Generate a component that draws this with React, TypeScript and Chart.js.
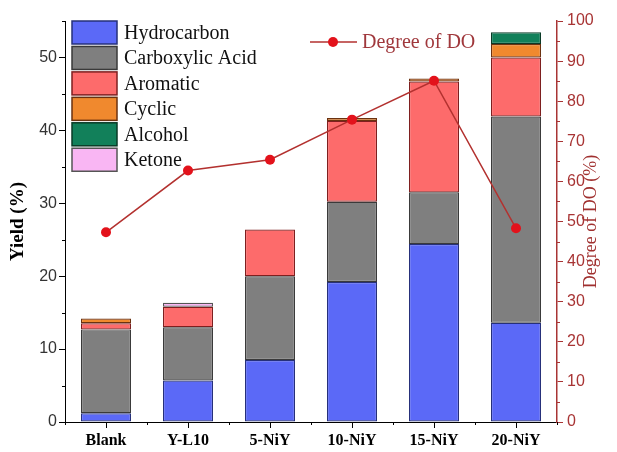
import React, { useEffect, useRef } from "react";
import { Chart, registerables } from "chart.js";

Chart.register(...registerables);

const categories = ["Blank", "Y-L10", "5-NiY", "10-NiY", "15-NiY", "20-NiY"];
const hydrocarbon = [1.2, 5.7, 8.5, 19.2, 24.4, 13.6];
const carboxylicAcid = [11.5, 7.3, 11.5, 11.0, 7.1, 28.3];
const aromatic = [0.85, 2.8, 6.4, 11.1, 15.2, 8.1];
const cyclic = [0.65, null, null, 0.4, 0.4, 1.85];
const alcohol = [null, null, null, null, null, 1.6];
const ketone = [null, 0.55, null, null, null, null];
const degreeDO = [47.3, 62.7, 65.4, 75.4, 85.1, 48.3];

const yieldTicks = [0, 10, 20, 30, 40, 50];
const yieldMinorTicks = [5, 15, 25, 35, 45, 55];
const doTicks = [0, 10, 20, 30, 40, 50, 60, 70, 80, 90, 100];
const doMinorTicks = [5, 15, 25, 35, 45, 55, 65, 75, 85, 95];

const SERIF = "'Liberation Serif', 'Times New Roman', serif";
const SANS = "'Liberation Sans', Arial, sans-serif";
const RED_AXIS = "#a83434";

const barSeries = [
  { label: "Hydrocarbon", data: hydrocarbon, bg: "#5b69f7", border: "#26307a" },
  { label: "Carboxylic Acid", data: carboxylicAcid, bg: "#7f7f7f", border: "#3a3a3a" },
  { label: "Aromatic", data: aromatic, bg: "#fd6b6b", border: "#7e1f1f" },
  { label: "Cyclic", data: cyclic, bg: "#f0892e", border: "#6b3210" },
  { label: "Alcohol", data: alcohol, bg: "#12805a", border: "#0a3a26" },
  { label: "Ketone", data: ketone, bg: "#f9b6f3", border: "#555555" },
];

const overlayPlugin = {
  id: "overlay",
  afterDraw(chart: any) {
    const ctx = chart.ctx;
    const area = chart.chartArea;
    const y = chart.scales.y;
    const y1 = chart.scales.y1;
    const x = chart.scales.x;
    ctx.save();
    // minor ticks
    ctx.lineWidth = 1;
    ctx.strokeStyle = "#000";
    yieldMinorTicks.forEach((v) => {
      const py = Math.round(y.getPixelForValue(v)) + 0.5;
      ctx.beginPath();
      ctx.moveTo(area.left - 3, py);
      ctx.lineTo(area.left, py);
      ctx.stroke();
    });
    for (let i = 0; i <= categories.length; i++) {
      const px = Math.round(area.left + (i * (area.right - area.left)) / categories.length) + 0.5;
      ctx.beginPath();
      ctx.moveTo(px, area.bottom);
      ctx.lineTo(px, area.bottom + 3);
      ctx.stroke();
    }
    ctx.strokeStyle = RED_AXIS;
    doMinorTicks.forEach((v) => {
      const py = Math.round(y1.getPixelForValue(v)) + 0.5;
      ctx.beginPath();
      ctx.moveTo(area.right, py);
      ctx.lineTo(area.right + 3, py);
      ctx.stroke();
    });

    // right axis title
    ctx.fillStyle = "#a0302f";
    ctx.font = `18px ${SERIF}`;
    ctx.textAlign = "center";
    ctx.textBaseline = "middle";
    ctx.translate(591, (area.top + area.bottom) / 2);
    ctx.rotate(-Math.PI / 2);
    ctx.fillText("Degree of DO (%)", 0, 0);
    ctx.restore();

    // bar legend
    ctx.save();
    const ds = chart.data.datasets;
    let row = 0;
    ds.forEach((d: any) => {
      if (d.type === "line") return;
      const top = 21 + row * 25.45;
      ctx.fillStyle = d.backgroundColor;
      ctx.fillRect(72, top, 45, 23);
      ctx.strokeStyle = d.borderColor;
      ctx.lineWidth = 1.5;
      ctx.strokeRect(72, top, 45, 23);
      ctx.fillStyle = "#111";
      ctx.font = `20px ${SERIF}`;
      ctx.textAlign = "left";
      ctx.textBaseline = "middle";
      ctx.fillText(d.label, 124, top + 12.5);
      row++;
    });

    // line legend
    const lineDs = ds.find((d: any) => d.type === "line");
    ctx.strokeStyle = lineDs.borderColor;
    ctx.lineWidth = 1.5;
    ctx.beginPath();
    ctx.moveTo(310, 42);
    ctx.lineTo(357, 42);
    ctx.stroke();
    ctx.fillStyle = lineDs.pointBackgroundColor;
    ctx.beginPath();
    ctx.arc(333, 42, 5, 0, Math.PI * 2);
    ctx.fill();
    ctx.fillStyle = "#a0383c";
    ctx.font = `20px ${SERIF}`;
    ctx.textAlign = "left";
    ctx.textBaseline = "middle";
    ctx.fillText(lineDs.label, 362, 43);
    ctx.restore();
  },
};

export default function App() {
  const canvasRef = useRef<HTMLCanvasElement | null>(null);

  useEffect(() => {
    if (!canvasRef.current) return;
    const datasets: any[] = barSeries.map((s) => ({
      type: "bar",
      label: s.label,
      data: s.data,
      backgroundColor: s.bg,
      borderColor: s.border,
      borderWidth: 1.2,
      borderSkipped: false,
      yAxisID: "y",
      stack: "s",
      order: 1,
      barPercentage: 0.61,
      categoryPercentage: 1,
    }));
    datasets.push({
      type: "line",
      label: "Degree of DO",
      data: degreeDO,
      yAxisID: "y1",
      borderColor: "#b3312f",
      borderWidth: 1.5,
      pointRadius: 5,
      pointBackgroundColor: "#e3121b",
      pointBorderColor: "#e3121b",
      pointBorderWidth: 0,
      tension: 0,
      order: 0,
    });

    const chart = new Chart(canvasRef.current, {
      type: "bar",
      data: { labels: categories, datasets },
      plugins: [overlayPlugin],
      options: {
        responsive: false,
        animation: false,
        layout: { padding: { top: 21, left: 0, right: 0, bottom: 0 } },
        plugins: {
          legend: { display: false },
          tooltip: { enabled: false },
          title: { display: false },
        },
        scales: {
          x: {
            type: "category",
            offset: true,
            stacked: true,
            grid: {
              display: true,
              drawOnChartArea: false,
              drawTicks: true,
              tickLength: 6,
              offset: false,
              color: "#000",
            },
            border: { display: true, color: "#000", width: 1 },
            ticks: {
              font: { family: SERIF, size: 16, weight: "bold" },
              color: "#000",
              padding: 3,
              maxRotation: 0,
            },
            afterFit: (s: any) => {
              s.height = 30;
            },
          },
          y: {
            type: "linear",
            position: "left",
            stacked: true,
            min: 0,
            max: 55,
            afterBuildTicks: (s: any) => {
              s.ticks = yieldTicks.map((v) => ({ value: v }));
            },
            grid: {
              display: true,
              drawOnChartArea: false,
              drawTicks: true,
              tickLength: 6,
              color: "#000",
            },
            border: { display: true, color: "#000", width: 1 },
            ticks: {
              font: { family: SANS, size: 16 },
              color: "#333",
              padding: 2,
            },
            title: {
              display: true,
              text: "Yield (%)",
              font: { family: SERIF, size: 19, weight: "bold" },
              color: "#000",
              padding: { top: 7, bottom: 0 },
            },
            afterFit: (s: any) => {
              s.width = 65;
            },
          },
          y1: {
            type: "linear",
            position: "right",
            min: 0,
            max: 100,
            afterBuildTicks: (s: any) => {
              s.ticks = doTicks.map((v) => ({ value: v }));
            },
            grid: {
              display: true,
              drawOnChartArea: false,
              drawTicks: true,
              tickLength: 6,
              color: RED_AXIS,
            },
            border: { display: true, color: RED_AXIS, width: 1.5 },
            ticks: {
              font: { family: SANS, size: 16 },
              color: RED_AXIS,
              padding: 4,
            },
            afterFit: (s: any) => {
              s.width = 60;
            },
          },
        },
      } as any,
    });
    return () => chart.destroy();
  }, []);

  return (
    <div style={{ position: "fixed", left: 0, top: 0, width: 617, height: 452, background: "#fff" }}>
      <canvas ref={canvasRef} width={617} height={452} style={{ display: "block" }} />
    </div>
  );
}
